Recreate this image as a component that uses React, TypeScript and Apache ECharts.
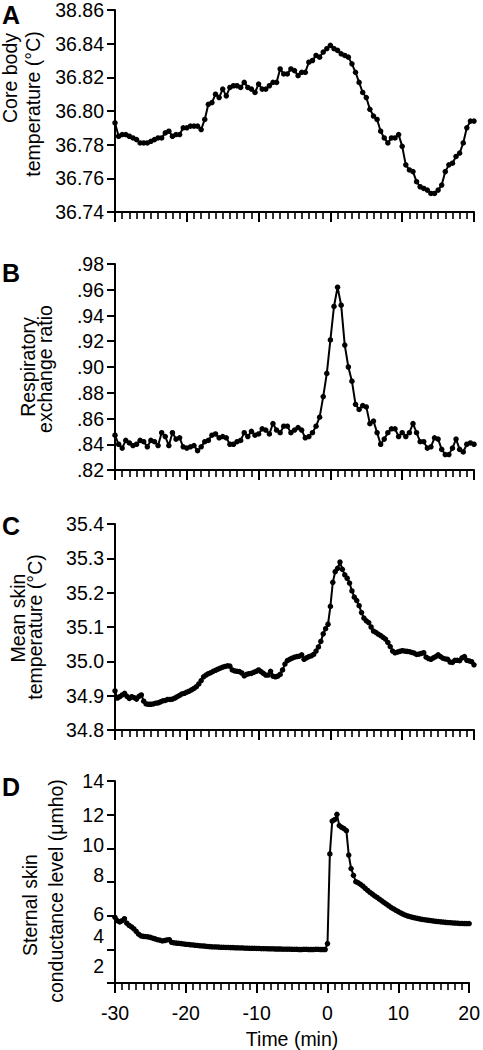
import React, { useEffect, useRef } from "react";
import * as echarts from "echarts";

// ---- data ----
const xTickLabels = ["-30", "-20", "-10", "0", "10", "20"];

// Panel A: core body temperature, every 0.5 min from -30 to 20
const coreTemp = [
  36.793, 36.785, 36.786, 36.786, 36.785, 36.784, 36.783, 36.781, 36.781, 36.781,
  36.782, 36.783, 36.784, 36.784, 36.787, 36.788, 36.785, 36.786, 36.786, 36.790,
  36.790, 36.791, 36.791, 36.791, 36.789, 36.795, 36.804, 36.805, 36.810, 36.808,
  36.813, 36.809, 36.814, 36.815, 36.815, 36.814, 36.817, 36.814, 36.813, 36.811,
  36.816, 36.813, 36.813, 36.815, 36.817, 36.817, 36.825, 36.822, 36.822, 36.825,
  36.824, 36.821, 36.823, 36.823, 36.829, 36.830, 36.833, 36.832, 36.835, 36.837,
  36.839, 36.837, 36.836, 36.834, 36.833, 36.832, 36.828, 36.823, 36.817, 36.811,
  36.808, 36.801, 36.797, 36.795, 36.788, 36.784, 36.781, 36.784, 36.784, 36.786,
  36.779, 36.768, 36.765, 36.764, 36.758, 36.755, 36.754, 36.753, 36.751, 36.751,
  36.753, 36.756, 36.764, 36.768, 36.769, 36.773, 36.775, 36.781, 36.790, 36.794,
  36.794,
];
const yLabelsA = ["36.74", "36.76", "36.78", "36.80", "36.82", "36.84", "38.86"];

// Panel B: respiratory exchange ratio, every 0.5 min
const rer = [
  0.847, 0.840, 0.837, 0.843, 0.841, 0.839, 0.840, 0.843, 0.842, 0.838,
  0.843, 0.842, 0.839, 0.849, 0.846, 0.839, 0.849, 0.844, 0.845, 0.838,
  0.837, 0.838, 0.839, 0.835, 0.838, 0.842, 0.843, 0.847, 0.848, 0.845,
  0.846, 0.845, 0.840, 0.840, 0.842, 0.843, 0.849, 0.846, 0.850, 0.847,
  0.848, 0.852, 0.851, 0.848, 0.856, 0.851, 0.849, 0.854, 0.854, 0.849,
  0.851, 0.853, 0.851, 0.845, 0.846, 0.849, 0.854, 0.861, 0.877, 0.895,
  0.921, 0.947, 0.962, 0.948, 0.917, 0.900, 0.889, 0.871, 0.867, 0.870,
  0.869, 0.856, 0.858, 0.849, 0.840, 0.844, 0.849, 0.852, 0.852, 0.846,
  0.849, 0.846, 0.849, 0.856, 0.849, 0.842, 0.842, 0.837, 0.838, 0.845,
  0.844, 0.836, 0.832, 0.832, 0.837, 0.844, 0.836, 0.834, 0.840, 0.841,
  0.840,
];
const yLabelsB = [".82", ".84", ".86", ".88", ".90", ".92", ".94", ".96", ".98"];

// Panel C: mean skin temperature, every 1/3 min
const skinTemp = [
  34.914, 34.893, 34.897, 34.902, 34.907, 34.898,
  34.892, 34.897, 34.894, 34.890, 34.898, 34.902,
  34.884, 34.876, 34.875, 34.875, 34.876, 34.878,
  34.879, 34.882, 34.885, 34.886, 34.889, 34.889,
  34.890, 34.893, 34.897, 34.901, 34.905, 34.907,
  34.910, 34.913, 34.917, 34.921, 34.926, 34.934,
  34.944, 34.955, 34.960, 34.964, 34.967, 34.971,
  34.974, 34.977, 34.980, 34.983, 34.985, 34.987,
  34.986, 34.975, 34.972, 34.971, 34.970, 34.966,
  34.958, 34.962, 34.964, 34.965, 34.968, 34.971,
  34.975, 34.970, 34.965, 34.960, 34.960, 34.971,
  34.957, 34.955, 34.957, 34.962, 34.975, 34.992,
  35.002, 35.006, 35.009, 35.012, 35.014, 35.015,
  35.019, 35.006, 35.010, 35.014, 35.016, 35.020,
  35.030, 35.042, 35.058, 35.080, 35.095, 35.108,
  35.160, 35.230, 35.261, 35.271, 35.289, 35.268,
  35.252, 35.242, 35.228, 35.205, 35.187, 35.177,
  35.162, 35.142, 35.126, 35.118, 35.113, 35.100,
  35.088, 35.084, 35.079, 35.075, 35.070, 35.065,
  35.055, 35.043, 35.030, 35.025, 35.027, 35.029,
  35.031, 35.030, 35.029, 35.028, 35.026, 35.024,
  35.020, 35.021, 35.023, 35.025, 35.012, 35.008,
  35.006, 35.010, 35.014, 35.019, 35.014, 35.009,
  35.007, 35.006, 34.998, 34.997, 35.003, 35.003,
  35.002, 35.010, 35.014, 35.003, 35.001, 34.999,
  34.990,
];
const yLabelsC = ["34.8", "34.9", "35.0", "35.1", "35.2", "35.3", "35.4"];

// Panel D: sternal skin conductance level, every 1/3 min
const scl = [
  5.90, 5.70, 5.63, 5.70, 5.82, 5.55,
  5.42, 5.33, 5.22, 5.06, 4.90, 4.80,
  4.77, 4.76, 4.74, 4.71, 4.66, 4.62,
  4.57, 4.54, 4.50, 4.52, 4.56, 4.57,
  4.42, 4.39, 4.37, 4.36, 4.34, 4.32,
  4.30, 4.29, 4.27, 4.26, 4.24, 4.23,
  4.21, 4.20, 4.19, 4.17, 4.16, 4.15,
  4.14, 4.14, 4.13, 4.12, 4.12, 4.11,
  4.11, 4.10, 4.10, 4.09, 4.09, 4.08,
  4.08, 4.07, 4.07, 4.06, 4.06, 4.06,
  4.05, 4.05, 4.04, 4.04, 4.04, 4.03,
  4.03, 4.03, 4.02, 4.02, 4.02, 4.01,
  4.01, 4.01, 4.01, 4.00, 4.00, 4.00,
  3.99, 3.99, 4.00, 4.00, 3.99, 3.99,
  3.99, 4.00, 4.00, 3.99, 3.99, 3.99,
  4.34, 9.67, 11.62, 11.70, 12.02, 11.35,
  11.25, 11.17, 11.05, 9.60, 8.80, 8.40,
  8.02, 7.95, 7.86, 7.75, 7.62, 7.50,
  7.38, 7.28, 7.17, 7.08, 6.98, 6.88,
  6.78, 6.68, 6.58, 6.48, 6.40, 6.32,
  6.24, 6.16, 6.09, 6.03, 5.98, 5.94,
  5.90, 5.87, 5.84, 5.81, 5.78, 5.76,
  5.74, 5.72, 5.70, 5.68, 5.66, 5.65,
  5.63, 5.62, 5.60, 5.59, 5.58, 5.57,
  5.56, 5.55, 5.54, 5.54, 5.53, 5.53,
  5.53,
];
const yLabelsD = ["2", "4", "6", "8", "10", "12", "14"];
const yLabelShiftD = [17, 13, 2, 7, 3, 0, 0];

const timesAB = coreTemp.map((_, i) => -30 + i * 0.5);
const timesCD = skinTemp.map((_, i) => -30 + i / 3);

const FONT = '"Liberation Sans", Arial, Helvetica, sans-serif';
const BLACK = "#000";

export default function App() {
  const ref = useRef<HTMLDivElement | null>(null);

  useEffect(() => {
    if (!ref.current) return;
    const chart = echarts.init(ref.current, undefined, { renderer: "svg" });

    const grids = [
      { left: 115, top: 6, width: 359, height: 206 },
      { left: 115, top: 264, width: 359, height: 206 },
      { left: 115, top: 524, width: 359, height: 206 },
      { left: 115, top: 781, width: 359, height: 205 },
    ];

    const xAxes = grids.map((_, k) => ({
      type: "value",
      gridIndex: k,
      min: -30,
      max: 20,
      interval: 10,
      axisLine: { show: true, onZero: false, lineStyle: { color: BLACK, width: 2 } },
      axisTick: { show: true, length: 10, lineStyle: { color: BLACK, width: 2 } },
      minorTick: { show: true, splitNumber: 10, length: 7, lineStyle: { color: BLACK, width: 1.6 } },
      splitLine: { show: false },
      minorSplitLine: { show: false },
      axisLabel: {
        show: k === 3,
        margin: 20,
        fontSize: 19.5,
        fontFamily: FONT,
        color: BLACK,
        formatter: (_v: number, i: number) => xTickLabels[i],
      },
      name: k === 3 ? "Time (min)" : "",
      nameLocation: "middle",
      nameGap: 46,
      nameTextStyle: { fontSize: 19.5, fontFamily: FONT, color: BLACK },
    }));

    const yBase = (k: number, min: number, max: number, interval: number, labels: string[], extra: any = {}) => ({
      type: "value",
      gridIndex: k,
      min,
      max,
      interval,
      axisLine: { show: true, onZero: false, lineStyle: { color: BLACK, width: 2 } },
      axisTick: { show: true, length: 8, lineStyle: { color: BLACK, width: 2 } },
      splitLine: { show: false },
      axisLabel: {
        margin: 11,
        fontSize: 19.5,
        fontFamily: FONT,
        color: BLACK,
        formatter: (_v: number, i: number) => labels[i],
        ...extra,
      },
    });

    const richD: any = {};
    yLabelShiftD.forEach((s) => {
      richD["s" + s] = {
        fontSize: 19.5,
        fontFamily: FONT,
        color: BLACK,
        padding: [0, 0, s * 2, 0],
      };
    });

    const yAxes = [
      yBase(0, 36.74, 36.86, 0.02, yLabelsA),
      yBase(1, 0.82, 0.98, 0.02, yLabelsB),
      yBase(2, 34.8, 35.4, 0.1, yLabelsC),
      yBase(3, 2, 14, 2, yLabelsD, {
        formatter: (_v: number, i: number) => {
          const s = yLabelShiftD[i];
          return s ? `{s${s}|${yLabelsD[i]}}` : yLabelsD[i];
        },
        rich: richD,
      }),
    ];

    const mkSeries = (k: number, times: number[], vals: number[], size: number) => ({
      type: "line",
      xAxisIndex: k,
      yAxisIndex: k,
      data: times.map((t, i) => [t, vals[i]]),
      symbol: "circle",
      symbolSize: size,
      showSymbol: true,
      showAllSymbol: true,
      lineStyle: { color: BLACK, width: 2 },
      itemStyle: { color: BLACK },
      silent: true,
    });

    const rotText = (text: string, x: number, y: number) => ({
      type: "text",
      x,
      y,
      rotation: Math.PI / 2,
      style: {
        text,
        font: `19.5px ${FONT}`,
        fill: BLACK,
        align: "center",
        verticalAlign: "middle",
      },
    });
    const letter = (text: string, top: number) => ({
      type: "text",
      left: 2,
      top,
      style: { text, font: `bold 25px ${FONT}`, fill: BLACK },
    });

    chart.setOption({
      animation: false,
      backgroundColor: "#fff",
      grid: grids,
      xAxis: xAxes,
      yAxis: yAxes,
      series: [
        mkSeries(0, timesAB, coreTemp, 5.5),
        mkSeries(1, timesAB, rer, 5.5),
        mkSeries(2, timesCD, skinTemp, 5.5),
        mkSeries(3, timesCD, scl, 5.5),
      ],
      graphic: [
        letter("A", 2),
        letter("B", 260),
        letter("C", 513),
        letter("D", 774),
        rotText("Core body", 10, 78),
        rotText("temperature (°C)", 33, 104),
        rotText("Respiratory", 28, 367),
        rotText("exchange ratio", 45, 369),
        rotText("Mean skin", 18, 618),
        rotText("temperature (°C)", 35, 627),
        rotText("Sternal skin", 30, 905),
        rotText("conductance level (μmho)", 56, 891),
      ],
    });

    return () => chart.dispose();
  }, []);

  return (
    <div
      ref={ref}
      style={{ position: "absolute", left: 0, top: 0, width: 483, height: 1050, background: "#fff" }}
    />
  );
}
